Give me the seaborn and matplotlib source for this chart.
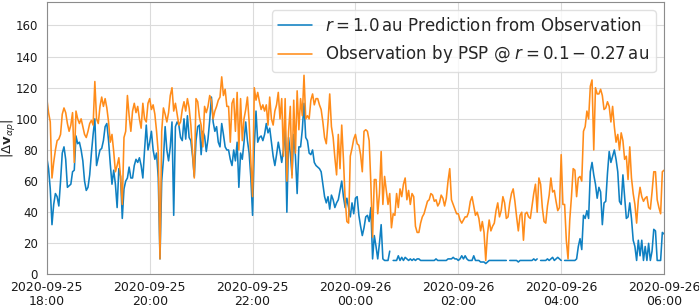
import numpy as np
import pandas as pd
import matplotlib
matplotlib.use("Agg")
import matplotlib.pyplot as plt
import matplotlib.dates as mdates
import seaborn as sns

nan = np.nan
# 2-minute cadence, 2020-09-25 18:00 -> 2020-09-26 06:00
start_time = "2020-09-25 18:00"
end_time = "2020-09-26 06:00"
cadence = "2min"

# Observation by PSP (orange)
obs = [
    113, 104, 98, 62, 72, 80, 86, 87, 90, 103, 107, 104, 97, 92, 96, 104, 72, 105, 100, 97, 100, 95, 90, 88, 92, 97, 99, 96, 124, 100,
    97, 108, 114, 108, 113, 107, 98, 85, 90, 79, 66, 70, 75, 63, 45, 88, 92, 115, 102, 92, 105, 110, 104, 108, 100, 94, 110, 100, 98, 110,
    113, 106, 109, 103, 92, 78, 10, 92, 107, 103, 98, 104, 115, 120, 105, 110, 103, 96, 98, 106, 111, 105, 113, 107, 96, 78, 62, 113, 111, 101,
    96, 82, 108, 104, 108, 115, 112, 100, 105, 108, 112, 114, 127, 115, 119, 108, 108, 85, 110, 113, 92, 117, 80, 113, 86, 100, 106, 114, 98, 72,
    50, 120, 112, 117, 111, 106, 109, 105, 109, 96, 114, 100, 96, 105, 109, 117, 100, 113, 76, 113, 60, 92, 108, 62, 112, 78, 118, 93, 113, 102,
    128, 100, 102, 100, 112, 116, 109, 113, 113, 109, 106, 98, 88, 84, 98, 116, 95, 88, 75, 64, 90, 68, 96, 74, 48, 34, 33, 76, 81, 87,
    90, 84, 83, 77, 66, 92, 93, 92, 86, 58, 24, 61, 61, 39, 52, 79, 45, 63, 54, 45, 52, 30, 39, 38, 52, 43, 55, 50, 58, 62,
    48, 54, 45, 52, 50, 31, 27, 27, 33, 37, 39, 43, 47, 48, 52, 51, 47, 48, 44, 46, 51, 49, 44, 49, 60, 68, 48, 45, 42, 39,
    39, 35, 33, 35, 37, 37, 40, 47, 50, 44, 38, 40, 36, 28, 34, 27, 9, 26, 35, 28, 31, 33, 41, 46, 37, 41, 50, 46, 36, 37,
    46, 52, 55, 47, 37, 28, 38, 40, 22, 39, 40, 37, 36, 44, 52, 58, 40, 62, 58, 43, 34, 33, 44, 51, 62, 53, 54, 47, 41, 43,
    77, 45, 45, 22, 10, 35, 50, 68, 67, 50, 62, 63, 60, 92, 95, 105, 100, 121, 125, 80, 120, 116, 116, 119, 115, 106, 107, 111, 108, 98,
    108, 95, 85, 90, 80, 91, 86, 74, 76, 61, 82, 62, 52, 45, 33, 48, 56, 50, 47, 49, 50, 43, 42, 53, 66, 66, 48, 43, 39, 66, 67,
]

# r = 1.0 au prediction (blue)
pred = [
    75, 68, 55, 32, 45, 52, 50, 44, 60, 78, 82, 74, 56, 57, 58, 66, 67, 89, 84, 85, 80, 73, 60, 54, 56, 64, 78, 90, 100, 70,
    75, 80, 81, 86, 95, 97, 86, 71, 58, 67, 58, 43, 68, 63, 36, 55, 60, 62, 69, 62, 62, 70, 74, 72, 75, 70, 62, 80, 96, 80,
    85, 92, 80, 74, 78, 62, 10, 60, 74, 95, 80, 73, 82, 98, 38, 95, 98, 96, 88, 86, 100, 87, 102, 88, 86, 76, 63, 86, 95, 96,
    77, 92, 89, 79, 87, 99, 114, 98, 92, 95, 85, 82, 97, 90, 82, 80, 80, 74, 70, 80, 73, 85, 56, 78, 74, 85, 98, 86, 78, 62,
    38, 82, 105, 85, 88, 89, 86, 90, 97, 91, 94, 85, 76, 70, 77, 85, 79, 72, 80, 95, 40, 88, 78, 64, 90, 76, 52, 82, 82, 93,
    110, 88, 86, 78, 77, 80, 72, 70, 69, 68, 66, 58, 50, 46, 50, 42, 51, 48, 43, 46, 48, 54, 60, 50, 43, 49, 43, 37, 46, 39,
    49, 50, 38, 31, 25, 30, 37, 38, 34, 43, 10, 25, 18, 10, 20, 32, 10, 9, 9, 9, 15, nan, 9, 9, 9, 12, 9, 11, 9, 11,
    10, 9, 10, 9, 10, 9, 10, 10, 9, 9, 9, 9, 9, 9, 9, 9, 9, 10, 9, 9, 9, 9, 9, 9, 10, 10, 10, 11, 10, 10,
    9, 10, 12, 10, 12, 10, 9, 9, 9, 12, 9, 9, 9, 8, 8, 8, 7, 8, 9, 9, 9, 9, 9, 9, 9, 9, 9, 9, 9, nan,
    9, 9, 9, 9, 9, 8, 9, 9, 9, 9, 9, 9, 9, 9, 10, 9, 10, nan, 9, 9, 9, 9, 10, 9, 10, 11, 9, 10, 11, 10,
    9, nan, 9, 9, 9, 9, 9, 9, 9, 10, 18, 23, 16, 38, 36, 41, 36, 66, 72, 64, 58, 49, 56, 53, 32, 46, 47, 65, 79, 72,
    76, 80, 74, 66, 47, 45, 64, 50, 36, 37, 46, 36, 22, 18, 9, 22, 12, 22, 9, 18, 9, 20, 9, 15, 29, 28, 9, 9, 9, 27, 26,
]

label_pred = r"$r = 1.0\,$au Prediction from Observation"
label_obs = r"Observation by PSP @ $r = 0.1 - 0.27\,$au"
ylabel = r"$|\Delta \mathbf{v}_{\alpha p}|$"
yticks = [0, 20, 40, 60, 80, 100, 120, 140, 160]

times = pd.date_range(start_time, end_time, freq=cadence)

def frame(vals):
    v = np.asarray(vals, dtype=float)
    seg = np.cumsum(np.isnan(v))
    return pd.DataFrame({"time": times, "value": v, "seg": seg}).dropna()

df_pred = frame(pred)
df_obs = frame(obs)

sns.set_style("whitegrid", {"axes.edgecolor": "0.55", "grid.color": "0.86",
                            "axes.linewidth": 1.0})
plt.rcParams["font.family"] = ["DejaVu Sans"]
plt.rcParams["mathtext.fontset"] = "dejavusans"

fig, ax = plt.subplots(figsize=(6.99, 3.07), dpi=100)
fig.subplots_adjust(left=0.067, right=0.95, bottom=0.106, top=0.993)

blue = "#0f80c2"
orange = "#ff8c1a"
sns.lineplot(data=df_pred, x="time", y="value", units="seg", estimator=None,
             color=blue, linewidth=1.15, ax=ax, label=label_pred)
sns.lineplot(data=df_obs, x="time", y="value", units="seg", estimator=None,
             color=orange, linewidth=1.15, ax=ax, label=label_obs)

ax.set_xlim(pd.Timestamp(start_time), pd.Timestamp(end_time))
ax.set_ylim(0, 175)
ax.set_yticks(yticks)
ax.xaxis.set_major_locator(mdates.HourLocator(byhour=range(0, 24, 2)))
ax.xaxis.set_major_formatter(mdates.DateFormatter("%Y-%m-%d\n%H:%M"))
ax.tick_params(axis="x", labelsize=9, colors="0.1", pad=1.5)
ax.tick_params(axis="y", labelsize=8.5, colors="0.1", pad=3)
for t in ax.get_xticklabels():
    t.set_linespacing(1.05)
ax.set_xlabel("")
ax.set_ylabel(ylabel, fontsize=9.5)
ax.yaxis.set_label_coords(-0.046, 0.5)

handles, labels = ax.get_legend_handles_labels()
uniq = {}
for h, l in zip(handles, labels):
    if l not in uniq:
        uniq[l] = h
leg = ax.legend(list(uniq.values()), list(uniq.keys()), loc="upper right",
                fontsize=12, frameon=True)
leg.get_frame().set_edgecolor("0.85")

fig.savefig("out.png", dpi=100)
